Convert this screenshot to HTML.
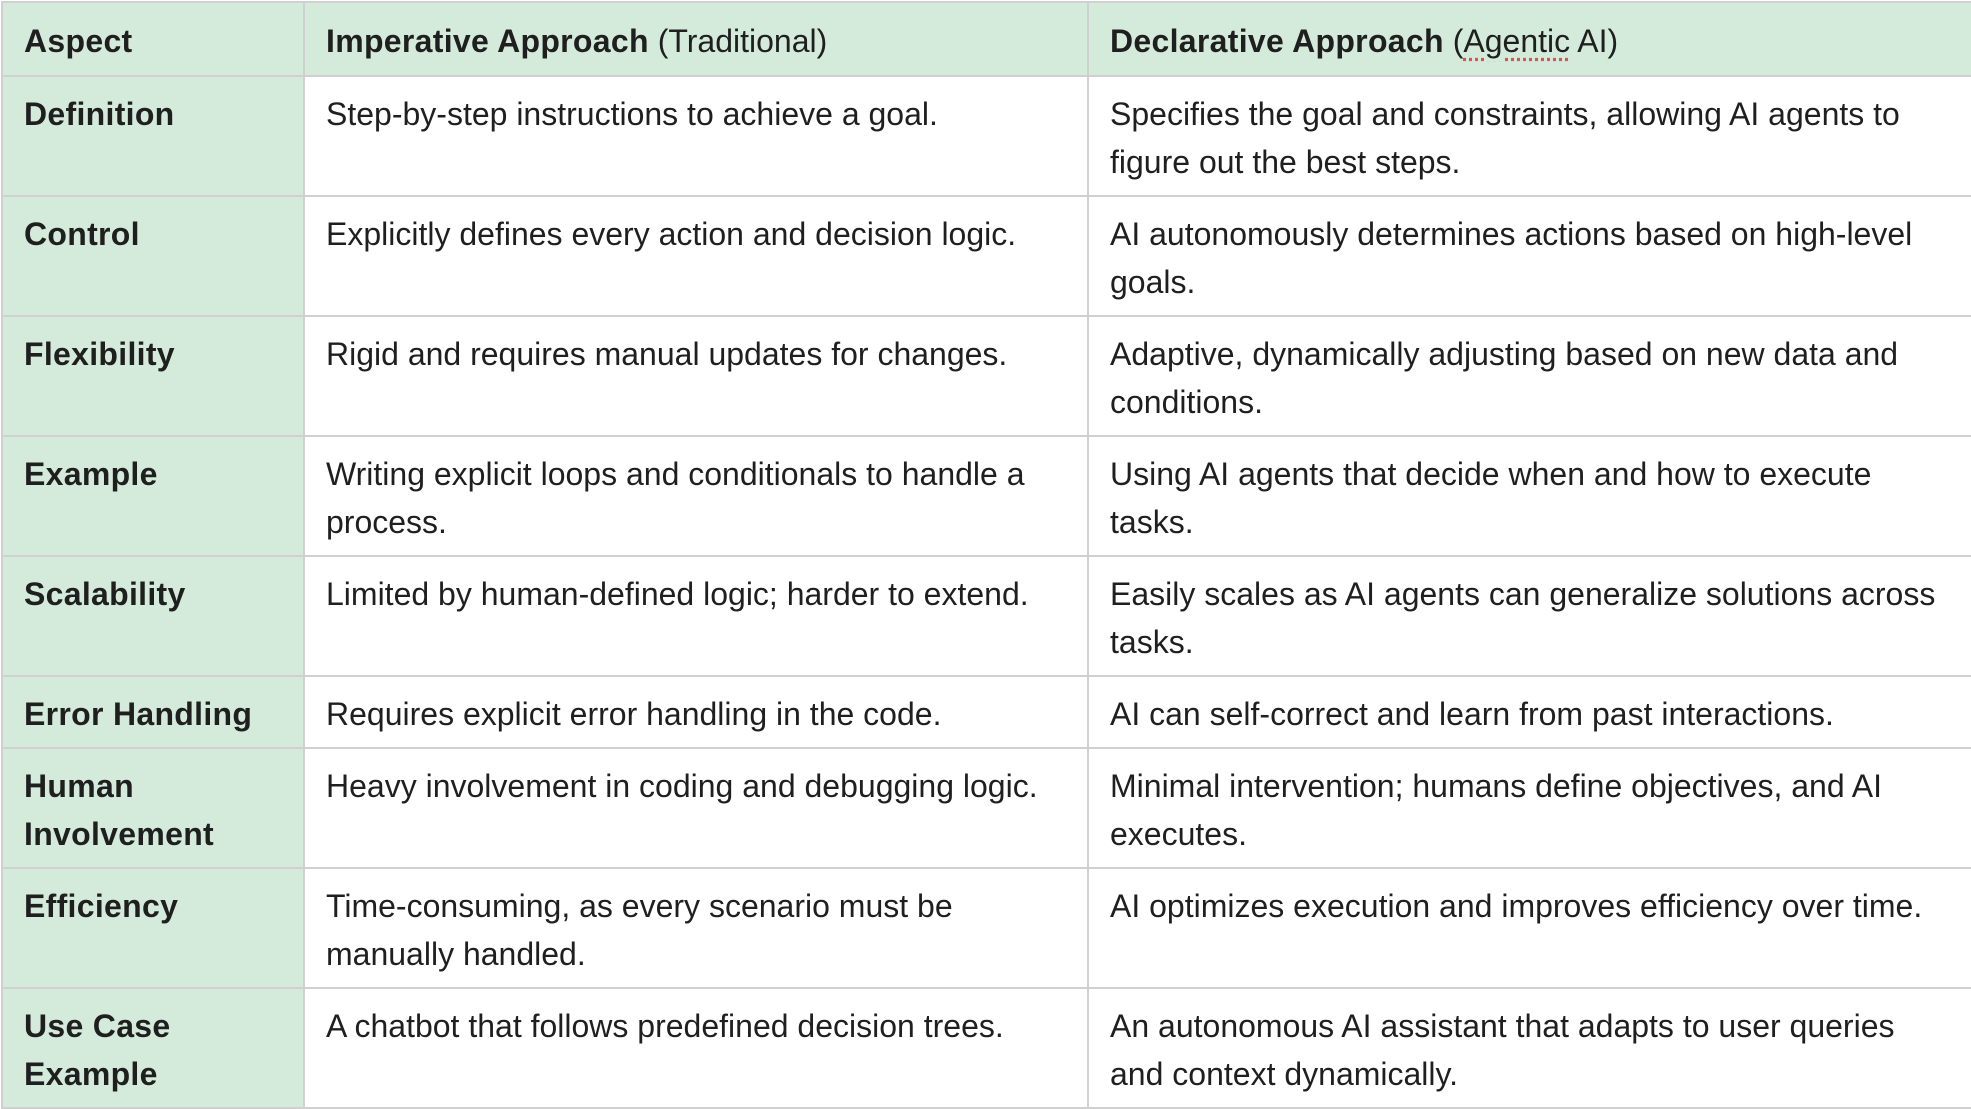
<!DOCTYPE html>
<html><head><meta charset="utf-8"><style>
html,body{margin:0;padding:0;background:#fff;width:1971px;height:1109px;overflow:hidden}
table{position:absolute;left:1px;top:1px;border-collapse:collapse;table-layout:fixed;width:1970px;font-family:"Liberation Sans",sans-serif;font-size:32px;color:#1f1f1f}
td{border:2px solid #d0d0d0;vertical-align:top;padding:13px 0 0 21px;line-height:48px;white-space:nowrap;overflow:hidden;box-sizing:border-box}
tr.h td{background:#d4ebdb;padding-top:14px}
td.a{background:#d4ebdb;font-weight:bold}
td.a, tr.h b{letter-spacing:0.3px}
b{font-weight:bold}
.sp{text-decoration:underline dotted #e05050;text-underline-offset:6px}
</style></head><body>
<table>
<colgroup><col style="width:302px"><col style="width:784px"><col style="width:884px"></colgroup>
<tr class="h" style="height:74px"><td><b>Aspect</b></td><td><b>Imperative Approach</b> (Traditional)</td><td><b>Declarative Approach</b> (<span class="sp">Agentic</span> AI)</td></tr>
<tr style="height:120px"><td class="a">Definition</td><td>Step-by-step instructions to achieve a goal.</td><td>Specifies the goal and constraints, allowing AI agents to<br>figure out the best steps.</td></tr>
<tr style="height:120px"><td class="a">Control</td><td>Explicitly defines every action and decision logic.</td><td>AI autonomously determines actions based on high-level<br>goals.</td></tr>
<tr style="height:120px"><td class="a">Flexibility</td><td>Rigid and requires manual updates for changes.</td><td>Adaptive, dynamically adjusting based on new data and<br>conditions.</td></tr>
<tr style="height:120px"><td class="a">Example</td><td>Writing explicit loops and conditionals to handle a<br>process.</td><td>Using AI agents that decide when and how to execute<br>tasks.</td></tr>
<tr style="height:120px"><td class="a">Scalability</td><td>Limited by human-defined logic; harder to extend.</td><td>Easily scales as AI agents can generalize solutions across<br>tasks.</td></tr>
<tr style="height:72px"><td class="a">Error Handling</td><td>Requires explicit error handling in the code.</td><td>AI can self-correct and learn from past interactions.</td></tr>
<tr style="height:120px"><td class="a">Human<br>Involvement</td><td>Heavy involvement in coding and debugging logic.</td><td>Minimal intervention; humans define objectives, and AI<br>executes.</td></tr>
<tr style="height:120px"><td class="a">Efficiency</td><td>Time-consuming, as every scenario must be<br>manually handled.</td><td>AI optimizes execution and improves efficiency over time.</td></tr>
<tr style="height:120px"><td class="a">Use Case<br>Example</td><td>A chatbot that follows predefined decision trees.</td><td>An autonomous AI assistant that adapts to user queries<br>and context dynamically.</td></tr>
</table>
</body></html>
